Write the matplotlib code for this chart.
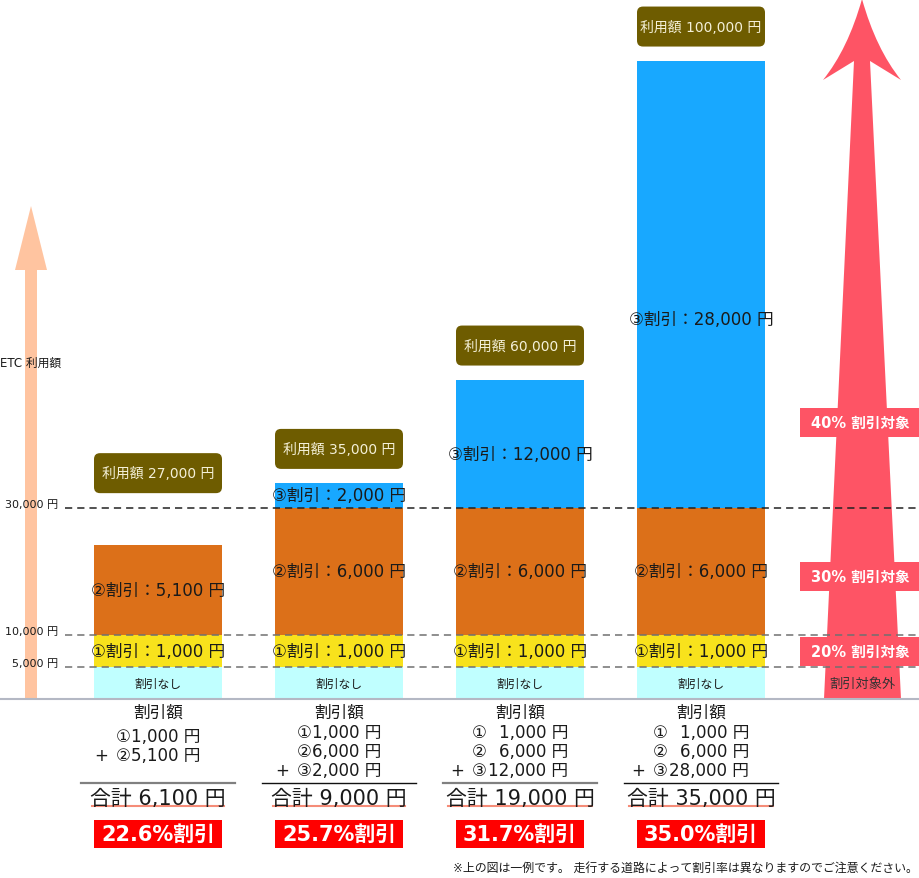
import numpy as np
import matplotlib.pyplot as plt
import matplotlib.transforms as mtransforms
from matplotlib.patches import FancyBboxPatch, Polygon, Rectangle, PathPatch
from matplotlib.path import Path
from matplotlib.lines import Line2D

# Latin/digits from DejaVu (close to the Verdana-like original), kanji from Noto
plt.rcParams['font.family'] = ['DejaVu Sans', 'Noto Sans CJK JP']
plt.rcParams['lines.scale_dashes'] = False

# ETC usage per example and the discount in each band
usage = [27000, 35000, 60000, 100000]
disc1 = [1000, 1000, 1000, 1000]
disc2 = [5100, 6000, 6000, 6000]
disc3 = [0, 2000, 12000, 28000]
# drawn height of each band (picture is not to scale above 30,000)
h_none = [5000, 5000, 5000, 5000]
h_tier1 = [5000, 5000, 5000, 5000]
h_tier2 = [14200, 20000, 20000, 20000]
h_tier3 = [0, 3800, 20000, 70000]
levels = [5000, 10000, 30000]
level_labels = ['5,000 円', '10,000 円', '30,000 円']
rate_labels = ['20% 割引対象', '30% 割引対象', '40% 割引対象']

# layout
tier3_label_at = [0, 31900, 38400, 59600]
rate_label_at = [7500, 19200, 43400]
level_colors = ['#707070', '#707070', '#222222']
sep_colors = ['#808080', '#111111', '#808080', '#111111']
sep_widths = [1.6, 1.0, 1.6, 1.0]

C_NONE, C_T1, C_T2, C_T3 = '#c0ffff', '#f8e21c', '#dc7019', '#18a8ff'
C_BOX = '#6e5c00'
C_RED = '#fe5465'
TXT = '#1a1a1a'

W, H = 920, 879
K = 6.38 / 1000.0  # px per yen
fig = plt.figure(figsize=(W / 100, H / 100), dpi=100)
ax = fig.add_axes([0, 0, 1, 1])
ax.axis('off')
ax.set_xlim(-158 / 181, (W - 158) / 181)
ax.set_ylim(-(H - 700) / K, 700 / K)

PX = mtransforms.Affine2D().scale(1, -1).translate(0, H)  # pixel coords from top-left
bx = mtransforms.blended_transform_factory(ax.transData, PX)   # x data, y px
by = mtransforms.blended_transform_factory(PX, ax.transData)   # x px, y data
ID = mtransforms.IdentityTransform()

x = np.arange(len(usage))
bw = 128 / 181

# arrows
ax.add_patch(Polygon([(25, 700), (25, 271), (15, 271), (31, 207), (47, 271), (37, 271), (37, 700)],
                     closed=True, color='#ffc4a0', lw=0, transform=PX, zorder=1))
verts = [(862, 0), (848, 50), (823, 81), (854, 62), (824, 700), (901, 700), (870, 62),
         (901, 81), (876, 50), (862, 0), (862, 0)]
codes = [Path.MOVETO, Path.CURVE3, Path.CURVE3, Path.LINETO, Path.LINETO, Path.LINETO,
         Path.LINETO, Path.LINETO, Path.CURVE3, Path.CURVE3, Path.CLOSEPOLY]
ax.add_patch(PathPatch(Path(verts, codes), color=C_RED, lw=0, transform=PX, zorder=1))

# stacked bars
b0 = np.array(h_none)
b1 = b0 + h_tier1
b2 = b1 + h_tier2
ax.bar(x, h_none, bw, color=C_NONE, zorder=2)
ax.bar(x, h_tier1, bw, bottom=b0, color=C_T1, zorder=2)
ax.bar(x, h_tier2, bw, bottom=b1, color=C_T2, zorder=2)
ax.bar(x, h_tier3, bw, bottom=b2, color=C_T3, zorder=2)
tops = b2 + h_tier3

# level lines and labels
for lv, lab, col in zip(levels, level_labels, level_colors):
    ax.plot([65, W], [lv, lv], color=col, lw=1.1, dashes=(5.2, 3.6), transform=by, zorder=4)
    ax.text(58, lv, lab, ha='right', va='bottom', fontsize=8, color=TXT,
            transform=mtransforms.offset_copy(by, fig, y=-1, units='dots'), zorder=5)
ax.text(0, 363, 'ETC 利用額', ha='left', va='center', fontsize=8.5, color=TXT, transform=PX, zorder=5)
ax.plot([0, W], [0, 0], color='#b4b8c4', lw=1.5, transform=by, zorder=4)

# rate labels on the red arrow
for lab, yc in zip(rate_labels, rate_label_at):
    hh = 29 / K
    ax.add_patch(Rectangle((800, yc - hh / 2), 120, hh, color=C_RED, lw=0, transform=by, zorder=5))
    ax.text(860, yc, lab, ha='center', va='center', fontsize=10.5, fontweight='bold',
            color='white', transform=by, zorder=6)
ax.text(862, 2500, '割引対象外', ha='center', va='center', fontsize=9.5, color='#333333',
        transform=by, zorder=6)

# band labels
for i in x:
    ax.text(i, h_none[i] / 2, '割引なし', ha='center', va='center', fontsize=8.5, color=TXT, zorder=6)
    ax.text(i, b0[i] + h_tier1[i] / 2, f'①割引：{disc1[i]:,} 円', ha='center', va='center',
            fontsize=12, color=TXT, zorder=6)
    ax.text(i, b1[i] + h_tier2[i] / 2, f'②割引：{disc2[i]:,} 円', ha='center', va='center',
            fontsize=12, color=TXT, zorder=6)
    if disc3[i]:
        ax.text(i, tier3_label_at[i], f'③割引：{disc3[i]:,} 円', ha='center', va='center',
                fontsize=12, color=TXT, zorder=6)
    # usage box
    cx, cy = ax.transData.transform((i, max(tops[i], 30000) + 5400))
    ax.add_patch(FancyBboxPatch((cx - 64 + 6, cy - 20 + 6), 128 - 12, 40 - 12,
                                boxstyle='round,pad=6,rounding_size=6', color=C_BOX, lw=0,
                                transform=ID, zorder=5))
    ax.text(cx, cy, f'利用額 {usage[i]:,} 円', ha='center', va='center', fontsize=10,
            color='#f4f0d8', transform=ID, zorder=6)

# table under the bars
sums = []
for i in x:
    ax.text(i, 713, '割引額', ha='center', va='center', fontsize=12, color=TXT, transform=bx)
    rows = [(c, d) for c, d in zip('①②③', (disc1[i], disc2[i], disc3[i])) if d > 0]
    half = 48 if max(d for _, d in rows) >= 10000 else 42
    top_y = 733 if len(rows) == 3 else 737
    for k, (c, d) in enumerate(rows):
        yy = top_y + 19 * k
        ax.text(i - half / 181, yy, c, ha='left', va='center', fontsize=12, color=TXT, transform=bx)
        ax.text(i + half / 181, yy, f'{d:,} 円', ha='right', va='center', fontsize=12,
                color=TXT, transform=bx)
        if k == len(rows) - 1:
            ax.text(i - (half + 15) / 181, yy, '+', ha='center', va='center', fontsize=12,
                    color=TXT, transform=bx)
    ax.plot([i - 0.428, i + 0.428], [784, 784], color=sep_colors[i], lw=sep_widths[i], transform=bx)
    total = sum(d for _, d in rows)
    sums.append(ax.text(i, 799, f'合計 {total:,} 円', ha='center', va='center', fontsize=15,
                        color=TXT, transform=bx, zorder=6))
    ax.add_patch(Rectangle((i - bw / 2, 821), bw, 28, color='#ff0000', lw=0, transform=bx))
    ax.text(i, 835, f'{total / usage[i] * 100:.1f}%割引', ha='center', va='center', fontsize=15,
            fontweight='bold', color='white', transform=bx)

fig.text(918 / W, 1 - 868 / H, '※上の図は一例です。 走行する道路によって割引率は異なりますのでご注意ください。',
         ha='right', va='center', fontsize=8.6, color=TXT)

fig.canvas.draw()
for t in sums:
    bb = t.get_window_extent()
    ax.add_line(Line2D([bb.x0 + 2, bb.x1 - 2], [H - 807, H - 807], color='#f58c78', lw=1.5,
                       transform=ID, zorder=5))

fig.savefig('out.png', dpi=100)
